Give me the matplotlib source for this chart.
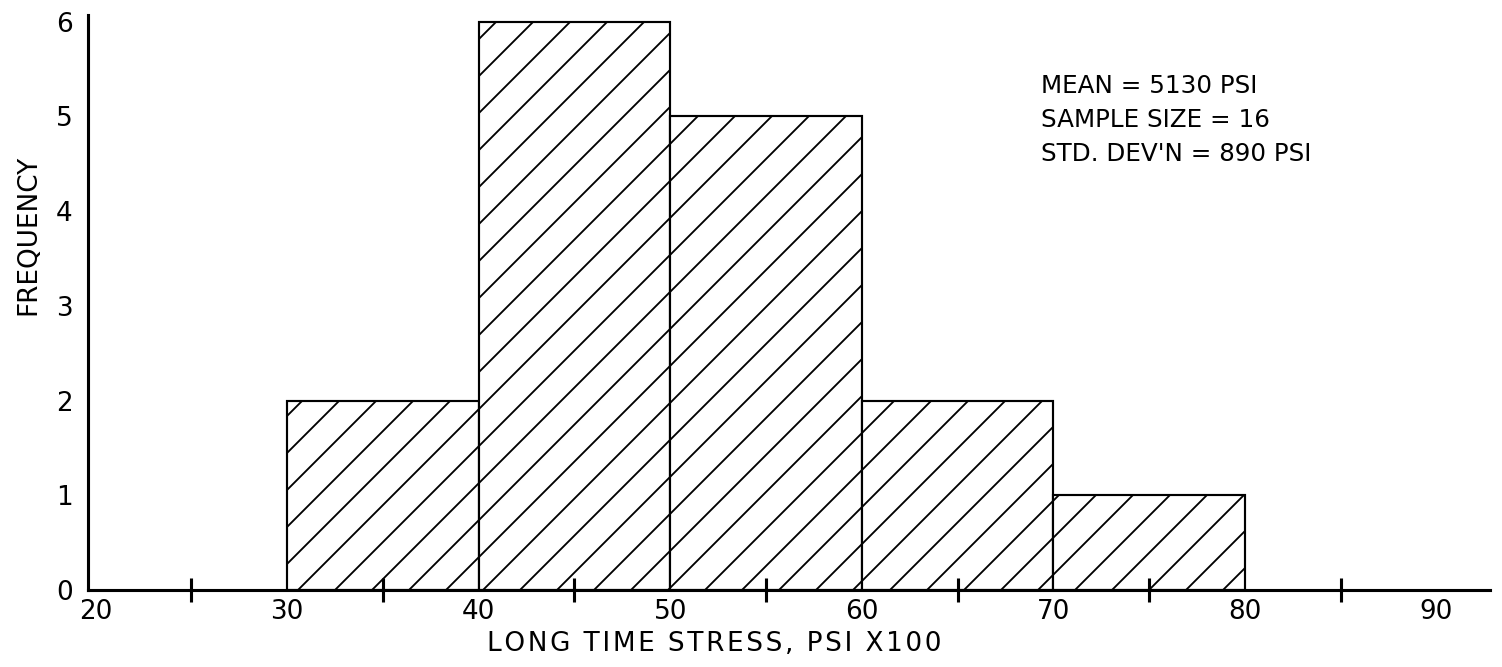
import matplotlib
matplotlib.use("Agg")
import matplotlib.pyplot as plt

# Data
bin_left = [30, 40, 50, 60, 70]
bin_width = 10
frequency = [2, 6, 5, 2, 1]
x_major = [20, 30, 40, 50, 60, 70, 80, 90]
x_minor = [25, 35, 45, 55, 65, 75, 85]
y_ticks = [0, 1, 2, 3, 4, 5, 6]
stats_lines = ["MEAN = 5130 PSI", "SAMPLE SIZE = 16", "STD. DEV'N = 890 PSI"]

DPI = 222
plt.rcParams['font.family'] = ['DejaVu Sans']
plt.rcParams['hatch.linewidth'] = 0.6
fig = plt.figure(figsize=(1502 / DPI, 667 / DPI), dpi=DPI)
ax = fig.add_axes([88 / 1502, 77 / 667, 1402 / 1502, 575 / 667])

ax.bar(bin_left, frequency, width=bin_width, align='edge', facecolor='white',
       edgecolor='black', linewidth=0.7, hatch='//', zorder=2)
ax.set_axisbelow(False)

ax.set_xlim(19.6, 92.8)
ax.set_ylim(0, 6.07)

for s in ['top', 'right']:
    ax.spines[s].set_visible(False)
for s in ['left', 'bottom']:
    ax.spines[s].set_linewidth(1.0)
    ax.spines[s].set_zorder(3)

ax.set_xticks(x_major)
ax.set_xticklabels([str(v) for v in x_major], fontsize=8.5)
ax.set_xticks(x_minor, minor=True)
ax.tick_params(axis='x', which='major', length=0, pad=3)
ax.tick_params(axis='x', which='minor', length=8, width=1.0, direction='inout')
ax.set_yticks(y_ticks)
ax.set_yticklabels([str(v) for v in y_ticks], fontsize=8.5)
ax.tick_params(axis='y', length=0, pad=5)

ax.set_xlabel("L O N G   T I M E   S T R E S S ,   P S I   X 1 0 0".replace("   ", "\u2002").replace(" ", "\u200a"),
              fontsize=8.5)
ax.xaxis.set_label_coords(0.447, -0.072)
ax.set_ylabel("FREQUENCY", fontsize=8.5)
ax.yaxis.set_label_coords(-0.033, 0.617)

for i, line in enumerate(stats_lines):
    ax.text(0.68, 0.877 - i * 0.059, line, transform=ax.transAxes,
            fontsize=8, va='center', ha='left')

fig.savefig("out.png", dpi=DPI, facecolor='white')
